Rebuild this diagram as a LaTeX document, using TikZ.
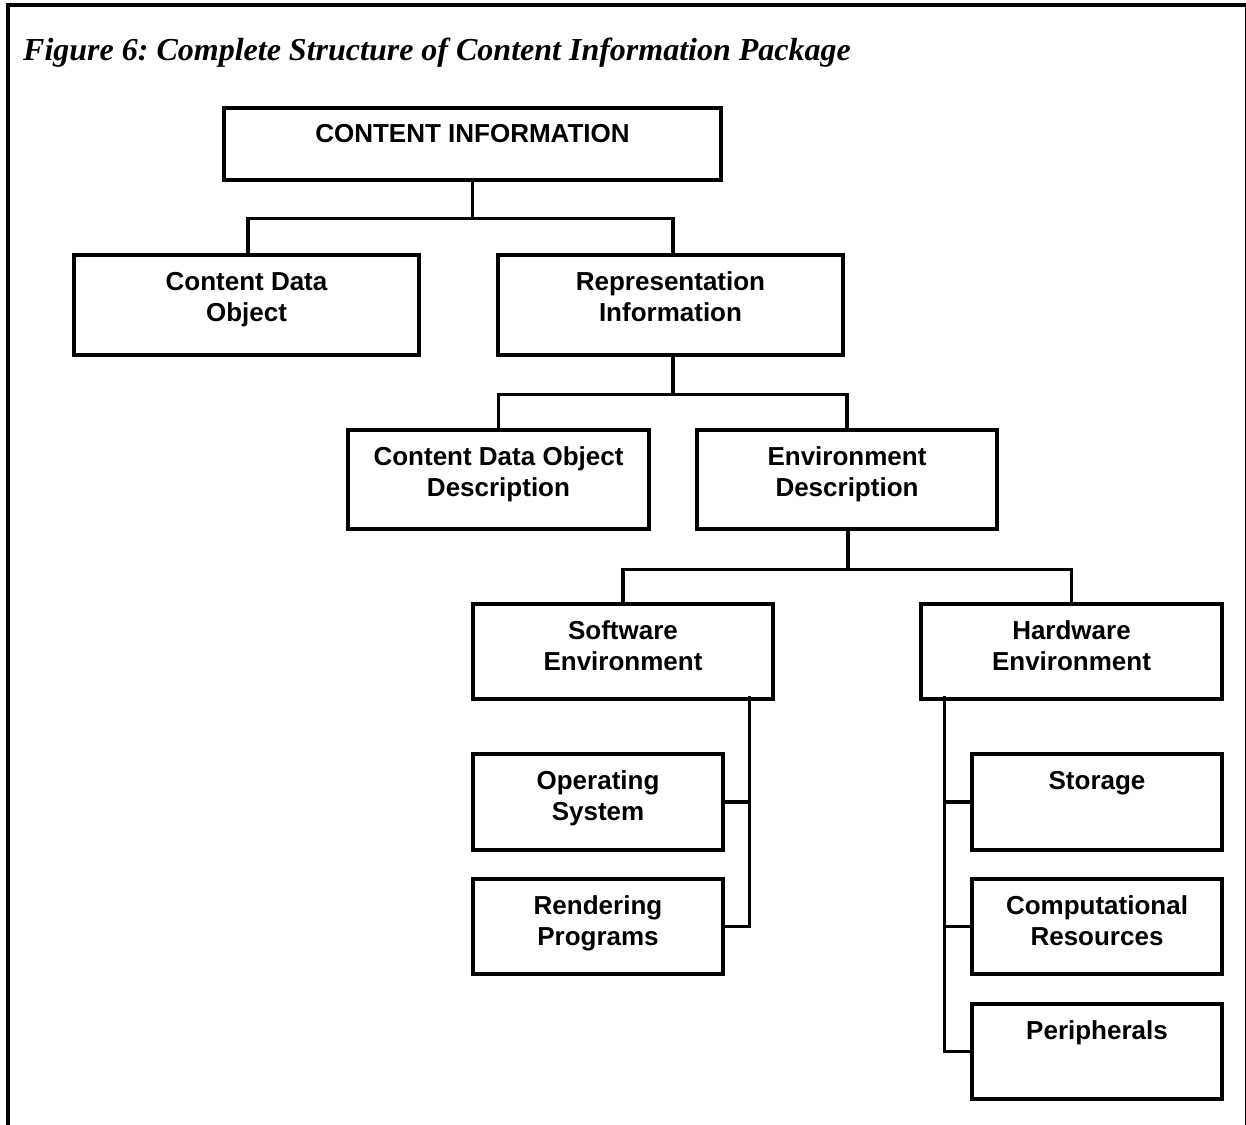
\documentclass[tikz,border=0pt]{standalone}
\usepackage{fontspec}
\setmainfont{Liberation Sans}
\newfontfamily\titlefont{Liberation Serif}
\newcommand{\twol}[1]{\begin{tabular}[t]{@{}c@{}}#1\end{tabular}}
\begin{document}
\begin{tikzpicture}[x=1pt,y=-1pt,
  box/.style={draw,line width=3.6pt,rectangle,inner sep=0pt,minimum width=#1},
  box/.default=300,
  lbl/.style={anchor=base,font=\fontsize{26}{31}\selectfont\bfseries,inner sep=0pt},
  conn/.style={line width=3.2pt,line cap=rect}]
\useasboundingbox (0,0) rectangle (1246,1124);
% frame
\draw[line width=4pt] (8,1130) -- (8,5) -- (1250,5);
\draw[line width=1.2pt] (1245.4,5) -- (1245.4,1130);
\node[anchor=base west,inner sep=0pt,font=\titlefont\fontsize{32}{36}\selectfont\bfseries\itshape\frenchspacing] (title) at (23,60) {Figure 6: Complete Structure of Content Information Package};
% boxes
\node[box=497,minimum height=72] (ci) at (472.5,144) {};
\node[box=345,minimum height=100] (cdo) at (246.5,305) {};
\node[box=345,minimum height=100] (ri) at (670.5,305) {};
\node[box=301,minimum height=99] (cdod) at (498.5,479.5) {};
\node[box=300,minimum height=99] (ed) at (847,479.5) {};
\node[box=300,minimum height=95] (sw) at (623,651.5) {};
\node[box=301,minimum height=95] (hw) at (1071.5,651.5) {};
\node[box=250,minimum height=96] (os) at (598,802) {};
\node[box=250,minimum height=95] (rp) at (598,926.5) {};
\node[box=250,minimum height=96] (st) at (1097,802) {};
\node[box=250,minimum height=95] (cr) at (1097,926.5) {};
\node[box=250,minimum height=95] (pe) at (1097,1051.5) {};
% labels
\node[lbl] (tci) at ([yshift=-36]ci.north) {CONTENT INFORMATION};
\node[lbl] (tcdo) at ([yshift=-37.5]cdo.north) {\twol{Content Data\\Object}};
\node[lbl] (tri) at ([yshift=-37.5]ri.north) {\twol{Representation\\Information}};
\node[lbl] (tcdod) at ([yshift=-37.5]cdod.north) {\twol{Content Data Object\\Description}};
\node[lbl] (ted) at ([yshift=-37.5]ed.north) {\twol{Environment\\Description}};
\node[lbl] (tsw) at ([yshift=-37.5]sw.north) {\twol{Software\\Environment}};
\node[lbl] (thw) at ([yshift=-37.5]hw.north) {\twol{Hardware\\Environment}};
\node[lbl] (tos) at ([yshift=-37.5]os.north) {\twol{Operating\\System}};
\node[lbl] (trp) at ([yshift=-37.5]rp.north) {\twol{Rendering\\Programs}};
\node[lbl] (tst) at ([yshift=-37.5]st.north) {Storage};
\node[lbl] (tcr) at ([yshift=-37.5]cr.north) {\twol{Computational\\Resources}};
\node[lbl] (tpe) at ([yshift=-37.5]pe.north) {Peripherals};
% connectors
\draw[conn] (ci.south) -- ++(0,37) -| ([xshift=1.5]cdo.north);
\draw[conn] (ci.south) ++(0,37) -| ([xshift=2.5]ri.north);
\draw[conn] ([xshift=2.5]ri.south) -- ++(0,38) -| (cdod.north);
\draw[conn] ([xshift=2.5]ri.south) ++(0,38) -| (ed.north);
\draw[conn] ([xshift=1]ed.south) -- ++(0,39) -| (sw.north);
\draw[conn] ([xshift=1]ed.south) ++(0,39) -| (hw.north);
\coordinate (swv) at ([xshift=-25]sw.south east);
\coordinate (hwv) at ([xshift=25]hw.south west);
\draw[conn] ([yshift=3]swv) |- (rp.east);
\draw[conn] (os.east) -| (swv);
\draw[conn] ([yshift=3]hwv) |- (pe.west);
\draw[conn] (st.west) -| (hwv);
\draw[conn] (cr.west) -| (hwv);
\end{tikzpicture}
\end{document}
